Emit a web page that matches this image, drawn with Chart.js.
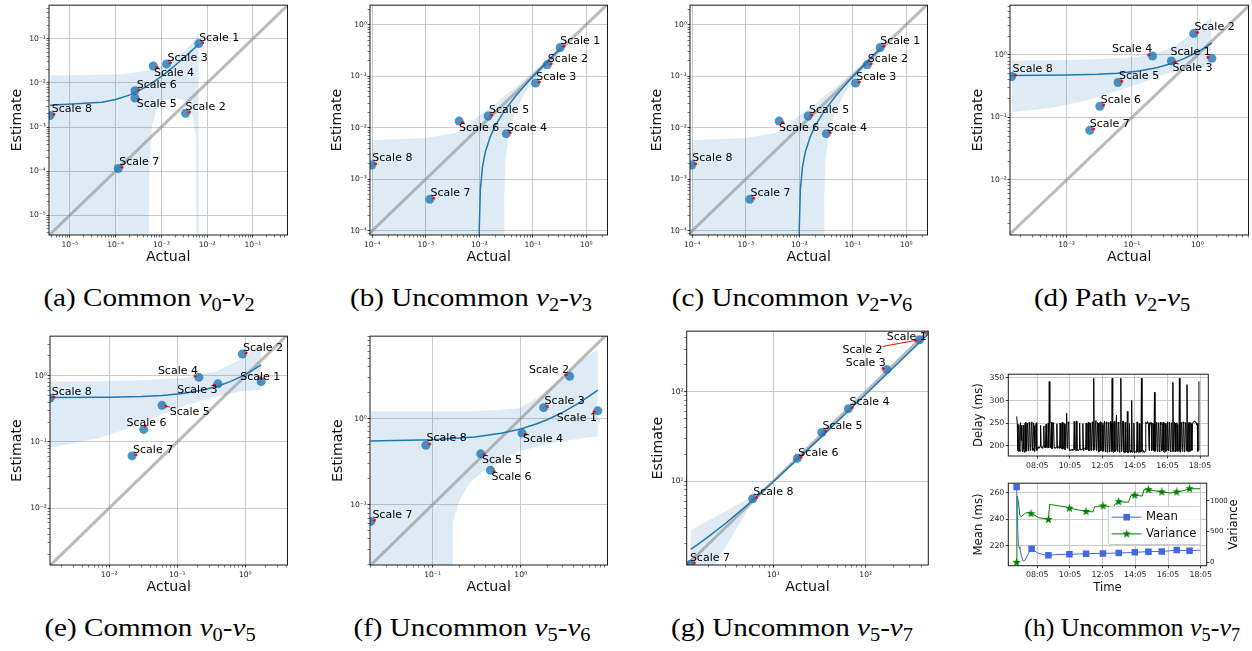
<!DOCTYPE html>
<html>
<head>
<meta charset="utf-8">
<title>Estimate vs Actual per scale</title>
<script src="https://cdn.jsdelivr.net/npm/chart.js@4.4.1/dist/chart.umd.min.js"></script>
<style>
html,body{margin:0;padding:0;background:#fff}
body{width:1252px;height:651px;position:relative;overflow:hidden}
canvas{position:absolute;display:block}
.cap{position:absolute;font-family:"Liberation Serif","Times New Roman",serif;font-size:26px;line-height:25px;color:#000;white-space:nowrap;transform:translateX(-50%) scaleX(1.12)}
.cap.narrow{transform:translateX(-50%) scaleX(1.0)}
.cap i{font-style:italic}
.cap sub{font-size:70%;vertical-align:baseline;position:relative;top:0.3em;line-height:0}
</style>
</head>
<body>
<canvas id="pa"></canvas><canvas id="pb"></canvas><canvas id="pc"></canvas><canvas id="pd"></canvas>
<canvas id="pe"></canvas><canvas id="pf"></canvas><canvas id="pg"></canvas>
<canvas id="ph1"></canvas><canvas id="ph2"></canvas>

<div class="cap" style="left:149px;top:285px">(a) Common <i>v</i><sub>0</sub>-<i>v</i><sub>2</sub></div>
<div class="cap" style="left:471px;top:285px">(b) Uncommon <i>v</i><sub>2</sub>-<i>v</i><sub>3</sub></div>
<div class="cap" style="left:792px;top:285px">(c) Uncommon <i>v</i><sub>2</sub>-<i>v</i><sub>6</sub></div>
<div class="cap" style="left:1112px;top:285px">(d) Path <i>v</i><sub>2</sub>-<i>v</i><sub>5</sub></div>
<div class="cap" style="left:150px;top:615px">(e) Common <i>v</i><sub>0</sub>-<i>v</i><sub>5</sub></div>
<div class="cap" style="left:472px;top:615px">(f) Uncommon <i>v</i><sub>5</sub>-<i>v</i><sub>6</sub></div>
<div class="cap" style="left:792px;top:615px">(g) Uncommon <i>v</i><sub>5</sub>-<i>v</i><sub>7</sub></div>
<div class="cap narrow" style="left:1132px;top:615px">(h) Uncommon <i>v</i><sub>5</sub>-<i>v</i><sub>7</sub></div>

<script>
// ---------------------------------------------------------------- data
const scaleNames = ['Scale 1','Scale 2','Scale 3','Scale 4','Scale 5','Scale 6','Scale 7','Scale 8'];
const F = 1e-9; // confidence edge below zero: lies off the bottom of a log axis

// (a) Common v0-v2
const actualA   = [6.6e-3, 3.39e-3, 1.30e-3, 6.65e-4, 2.65e-4, 2.65e-4, 1.14e-4, 3.7e-6];
const estimateA = [0.078, 2.06e-3, 0.027, 0.0243, 4.55e-3, 6.67e-3, 1.15e-4, 1.83e-3];
const fitXA  = [3.7e-6, 5e-5, 1e-4, 2e-4, 4e-4, 7e-4, 1e-3, 1.5e-3, 2.2e-3, 3.2e-3, 4.5e-3, 6.6e-3];
const fitYA  = [3.14e-3, 3.65e-3, 4.2e-3, 5.3e-3, 7.5e-3, 0.0108, 0.0141, 0.0196, 0.0273, 0.0383, 0.0526, 0.0757];
const bandXA  = [3.7e-6, 1e-4, 2e-4, 4e-4, 5.1e-4, 5.5e-4, 6.2e-4, 8.4e-4, 1.0e-3, 1.54e-3, 2.2e-3, 2.8e-3, 3.6e-3, 4.6e-3, 5.7e-3, 6.1e-3, 6.6e-3];
const bandHiA = [0.0147, 0.0155, 0.0165, 0.0185, 0.0195, 0.0198, 0.0205, 0.023, 0.025, 0.033, 0.041, 0.049, 0.06, 0.078, 0.105, 0.118, 0.14];
const bandLoA = [F, F, F, F, F, 1.0e-4, 1.05e-3, 2.96e-3, 3.6e-3, 4.5e-3, 4.5e-3, 4.25e-3, 3.6e-3, 2.5e-3, 6.3e-4, F, F];

// (b) Uncommon v2-v3
const actualB   = [0.327, 0.187, 0.113, 0.0321, 0.0146, 4.2e-3, 1.19e-3, 9.75e-5];
const estimateB = [0.361, 0.166, 0.0733, 7.65e-3, 0.0168, 0.01345, 4.06e-4, 1.89e-3];
const fitXB  = [0.0099, 0.0100, 0.0105, 0.0115, 0.013, 0.016, 0.02, 0.03, 0.05, 0.1, 0.2, 0.327];
const fitYB  = [F, 1.09e-4, 6.5e-4, 1.74e-3, 3.4e-3, 6.6e-3, 0.011, 0.0219, 0.0436, 0.098, 0.207, 0.345];
const bandXB  = [9.75e-5, 1e-3, 3.75e-3, 6e-3, 8.9e-3, 0.02, 0.0285, 0.0295, 0.031, 0.035, 0.04, 0.05, 0.07, 0.1, 0.2, 0.327];
const bandHiB = [5.7e-3, 6.3e-3, 8e-3, 0.011, 0.0155, 0.029, 0.04, 0.041, 0.043, 0.047, 0.053, 0.064, 0.086, 0.12, 0.237, 0.39];
const bandLoB = [F, F, F, F, F, F, F, 5e-4, 2.4e-3, 6.8e-3, 0.012, 0.0236, 0.044, 0.076, 0.177, 0.30];

// (c) Uncommon v2-v6
const actualC   = [0.327, 0.187, 0.113, 0.0321, 0.0146, 4.2e-3, 1.19e-3, 9.75e-5];
const estimateC = [0.361, 0.166, 0.0733, 7.65e-3, 0.0168, 0.01345, 4.06e-4, 1.89e-3];
const fitXC  = [0.0099, 0.0100, 0.0105, 0.0115, 0.013, 0.016, 0.02, 0.03, 0.05, 0.1, 0.2, 0.327];
const fitYC  = [F, 1.09e-4, 6.5e-4, 1.74e-3, 3.4e-3, 6.6e-3, 0.011, 0.0219, 0.0436, 0.098, 0.207, 0.345];
const bandXC  = [9.75e-5, 1e-3, 3.75e-3, 6e-3, 8.9e-3, 0.02, 0.0285, 0.0295, 0.031, 0.035, 0.04, 0.05, 0.07, 0.1, 0.2, 0.327];
const bandHiC = [5.7e-3, 6.3e-3, 8e-3, 0.011, 0.0155, 0.029, 0.04, 0.041, 0.043, 0.047, 0.053, 0.064, 0.086, 0.12, 0.237, 0.39];
const bandLoC = [F, F, F, F, F, F, F, 5e-4, 2.4e-3, 6.8e-3, 0.012, 0.0236, 0.044, 0.076, 0.177, 0.30];

// (d) Path v2-v5
const actualD   = [1.67, 0.877, 0.401, 0.206, 0.0612, 0.0322, 0.0226, 1.44e-3];
const estimateD = [0.883, 2.2, 0.804, 0.964, 0.363, 0.151, 0.0622, 0.453];
const fitXD  = [1.44e-3, 0.01, 0.03, 0.06, 0.12, 0.24, 0.4, 0.6, 0.9, 1.25, 1.67];
const fitYD  = [0.471, 0.4765, 0.49, 0.509, 0.548, 0.626, 0.73, 0.86, 1.055, 1.28, 1.556];
const bandXD  = [1.44e-3, 5.6e-3, 0.01, 0.0226, 0.058, 0.117, 0.187, 0.237, 0.478, 0.964, 1.63];
const bandHiD = [0.813, 0.82, 0.834, 0.85, 0.883, 0.93, 1.0, 1.06, 1.44, 2.49, 4.06];
const bandLoD = [0.121, 0.142, 0.16, 0.193, 0.262, 0.334, 0.40, 0.453, 0.543, 0.614, 0.67];

// (e) Common v0-v5
const actualE   = [1.71, 0.904, 0.396, 0.208, 0.0598, 0.0322, 0.0217, 1.35e-3];
const estimateE = [0.82, 2.13, 0.757, 0.95, 0.358, 0.155, 0.0615, 0.46];
const fitXE  = [1.35e-3, 0.01, 0.03, 0.06, 0.12, 0.24, 0.4, 0.6, 0.9, 1.25, 1.71];
const fitYE  = [0.471, 0.476, 0.487, 0.505, 0.54, 0.609, 0.702, 0.818, 0.992, 1.195, 1.462];
const bandXE  = [1.35e-3, 7.3e-3, 0.0224, 0.0394, 0.1216, 0.375, 0.824, 1.71];
const bandHiE = [0.82, 0.83, 0.85, 0.87, 0.918, 1.16, 1.73, 3.15];
const bandLoE = [0.082, 0.116, 0.17, 0.218, 0.346, 0.489, 0.581, 0.615];

// (f) Uncommon v5-v6
const actualF   = [7.5, 3.59, 1.82, 1.035, 0.352, 0.454, 0.0199, 0.0839];
const estimateF = [1.23, 3.1, 1.34, 0.679, 0.39, 0.251, 0.064, 0.491];
const fitXF  = [0.0199, 0.1, 0.3, 0.6, 1.0, 1.5, 2.0, 3.0, 4.5, 6.0, 7.5];
const fitYF  = [0.55, 0.567, 0.61, 0.674, 0.758, 0.865, 0.971, 1.18, 1.5, 1.82, 2.14];
const bandXF  = [0.0199, 0.1, 0.16, 0.164, 0.17, 0.2, 0.265, 0.35, 0.485, 0.7, 0.975, 1.5, 2.32, 3.59, 5.2, 7.5];
const bandHiF = [1.21, 1.21, 1.21, 1.21, 1.21, 1.21, 1.22, 1.23, 1.25, 1.28, 1.32, 1.72, 2.44, 3.64, 5.0, 6.44];
const bandLoF = [F, F, F, F, 0.062, 0.11, 0.181, 0.23, 0.282, 0.36, 0.419, 0.47, 0.521, 0.56, 0.595, 0.622];

// (g) Uncommon v5-v7
const actualG   = [476, 382, 169, 65, 33.5, 18.2, 1.27, 5.98];
const estimateG = [480, 382, 177, 64.7, 35, 18, 1.18, 6.37];
const fitXG  = [1.27, 1.5, 2, 3, 5, 10, 30, 100, 300, 476];
const fitYG  = [1.73, 1.945, 2.41, 3.34, 5.2, 9.85, 28.45, 93.6, 279.6, 443];
const bandXG  = [1.27, 1.6, 2.34, 3.5, 5.0, 5.98, 8, 12, 20, 40, 80, 160, 300, 476];
const bandHiG = [2.8, 3.22, 3.99, 5.0, 6.15, 6.8, 8.5, 12.3, 19.9, 39, 77.5, 154, 290, 470];
const bandLoG = [0.78, 0.95, 1.156, 2.34, 4.35, 5.94, 7.7, 11.4, 18.7, 37, 73.5, 146, 272, 430];

// (h) Uncommon v5-v7: delay trace (one sample every 2 minutes from 06:49)
const delayStart = 409, delayStep = 2;
const delayMs = [
  265,248,190,188,247,192,188,251,212,246,190,187,246,193,186,249,252,188,194,247,
  250,189,191,252,247,190,196,248,253,195,190,250,244,188,201,246,251,190,193,196,
  198,195,196,199,245,196,197,195,199,198,244,197,198,196,248,197,196,199,250,196,
  342,250,199,196,252,194,201,251,248,195,197,196,195,197,249,195,199,197,196,195,
  250,196,194,249,252,193,197,250,248,192,196,247,272,195,199,253,251,190,192,191,
  190,192,193,190,191,192,254,191,190,193,255,190,192,191,190,193,250,191,193,192,
  191,193,249,190,192,194,196,192,250,191,194,248,252,189,190,251,248,190,196,253,
  252,190,349,192,195,250,256,190,194,252,250,187,188,250,253,189,196,251,247,188,
  190,252,255,188,187,253,249,186,195,250,252,187,189,254,251,188,349,190,186,252,
  254,187,192,251,268,190,188,252,250,188,186,253,349,188,190,250,255,187,185,186,
  252,186,188,187,276,185,186,188,249,186,190,187,300,186,187,188,250,185,186,187,
  188,186,253,187,186,188,249,186,188,187,349,188,186,187,190,186,187,188,252,250,
  249,253,252,248,190,251,248,252,251,190,193,250,247,189,318,188,190,249,252,189,
  188,251,250,188,187,252,246,189,190,249,252,187,186,250,249,188,191,247,253,190,
  189,252,248,189,187,250,251,188,340,190,188,252,250,187,190,251,247,188,189,190,
  349,188,186,250,252,188,190,253,249,187,188,251,250,189,335,188,187,249,252,188,
  189,251,248,190,250,252,253,254,255,253,252,251,247,249,188,190,342];
// running mean (ms) and variance, minutes since midnight
const meanTime  = [409,412,415,418,421,427,433,440,446,455,464,475,485,495,510,526,545,565,585,603,620,640,664,690,726,755,784,815,843,870,893,920,942,970,997,1020,1044,1065,1083];
const meanValue = [264.2,240,222.4,219,217.6,212,208.2,209,211.4,215,217.6,216,214.5,213.9,213,212.7,213,213.2,213.4,213.4,213.5,213.7,213.9,214,214.1,214.2,214.4,214.6,214.9,215.2,215.4,215.5,215.6,216,216.6,216.3,216.1,216.3,216.6];
const meanMarkTimes = [409,464,526,603,664,726,784,843,893,942,997,1044];
const varTime  = [409,410,415,421,427,442,455,462,473,490,516,526,530,560,590,603,637,664,690,695,726,765,772,784,820,828,843,870,877,893,918,942,975,990,997,1020,1044,1083];
const varValue = [0,1074,1000,760,747,800,815,790,770,725,705,695,940,920,900,878,850,826,820,900,916,900,950,984,975,1080,1090,1075,1180,1179,1160,1142,1125,1135,1142,1160,1194,1194];
const varMarkTimes = [409,462,526,603,664,726,784,843,893,942,997,1044];
const timeTicks = [485,605,725,845,965,1085];
const delayTicks = [200,250,300,350];
const meanTicks = [220,240,260];
const varTicks = [0,500,1000];

// ---------------------------------------------------------------- layout
const labelDxA = [0.3, 0, 1, 0.7, 1.7, 1.7, 1, 1.7],        labelDyA = [-2.4, -2.7, -3, 10, 9.3, -2.6, -3, -3.3];
const labelDxB = [0, 0.6, 0.7, 0.6, 1, 0, 0.7, 0.6],         labelDyB = [-3, -2.6, -2.7, -2.7, -3.3, 10, -3, -3.6];
const labelDxD = [-41.3, 1, 1, -40.4, 1, 1, 0, 1],           labelDyD = [-3.4, -3.4, 9.7, -3.6, -3.3, -3.3, -3.3, -4];
const labelDxE = [-21, 0.6, -40.6, -41, 7.7, -17.3, 1, 1.7], labelDyE = [-1.7, -3.3, 9.4, -3.4, 9.3, -3.3, -3.3, -3.4];
const labelDxF = [-41, -40.7, 1, 1, 1.3, 1, 1.6, 0.7],       labelDyF = [9.7, -3.3, -3.7, 9.3, 9, 9.7, -3.7, -4];
const labelDxG = [-41.6, -77, -41, 1, 0.6, 1, -0.7, 0.6],    labelDyG = [9.3, 13.4, -3.3, -3.4, -3.4, -2.7, -3.3, -3.3];

const DOT = 'rgba(31,119,180,0.8)', FIT = '#1f77b4', BAND = 'rgba(31,119,180,0.15)';
const DIAG = 'rgba(140,140,140,0.6)', GRID = '#cbcbcb', INK = '#222';

Chart.defaults.font.family = '"DejaVu Sans", sans-serif';
Chart.defaults.color = INK;
Chart.defaults.animation = false;

const SUP = {'-':'\u207B','0':'\u2070','1':'\u00B9','2':'\u00B2','3':'\u00B3','4':'\u2074','5':'\u2075','6':'\u2076','7':'\u2077','8':'\u2078','9':'\u2079'};
function powLabel(v){
  const e = Math.round(Math.log10(v));
  return '10' + String(e).split('').map(ch => SUP[ch]).join('');
}
function logTicks(min, max){
  const out = [];
  for (let e = Math.floor(Math.log10(min)); e <= Math.ceil(Math.log10(max)); e++) {
    for (let m = 1; m < 10; m++) {
      const v = m * Math.pow(10, e);
      if (v >= min && v <= max) out.push({value: v, major: m === 1});
    }
  }
  return out;
}
function hhmm(v){
  const h = Math.floor(v / 60), m = Math.round(v % 60);
  return String(h).padStart(2,'0') + ':' + String(m).padStart(2,'0');
}
function place(c, left, top, w, h){
  c.width = w; c.height = h;
  c.style.left = left + 'px'; c.style.top = top + 'px';
  c.style.width = w + 'px'; c.style.height = h + 'px';
}
const pts = (xs, ys) => xs.map((x, i) => ({x, y: ys[i]}));

function drawFrame(ctx, a){
  ctx.save();
  ctx.strokeStyle = '#1a1a1a'; ctx.lineWidth = 1;
  ctx.strokeRect(a.left, a.top, a.right - a.left, a.bottom - a.top);
  ctx.restore();
}

// red pointer from a label box to its marker
function drawArrow(ctx, it){
  const l = it.tx, r = it.tx + it.w, t = it.ty - 8.5, b = it.ty + 2.5;
  const cx = (l + r) / 2, cy = (t + b) / 2;
  const vx = it.px - cx, vy = it.py - cy, L = Math.hypot(vx, vy);
  if (L < 1e-6) return;
  const ux = vx / L, uy = vy / L;
  const k = Math.min(Math.abs(vx) > 1e-6 ? (r - l) / 2 / Math.abs(vx) : Infinity,
                     Math.abs(vy) > 1e-6 ? (b - t) / 2 / Math.abs(vy) : Infinity, 1);
  let sx = cx + vx * k, sy = cy + vy * k;
  const ex = it.px - ux * 1.5, ey = it.py - uy * 1.5;
  if (Math.hypot(ex - sx, ey - sy) < 4) { sx = ex - ux * 4; sy = ey - uy * 4; }
  ctx.beginPath(); ctx.moveTo(sx, sy); ctx.lineTo(ex - ux * 2, ey - uy * 2); ctx.stroke();
  const hx = ex - ux * 3.5, hy = ey - uy * 3.5, nx = -uy, ny = ux;
  ctx.beginPath(); ctx.moveTo(ex, ey);
  ctx.lineTo(hx + nx * 1.6, hy + ny * 1.6); ctx.lineTo(hx - nx * 1.6, hy - ny * 1.6);
  ctx.closePath(); ctx.fill();
}

function labelPlugin(p){
  return {
    id: 'scaleLabels',
    afterDatasetsDraw(chart){
      const {ctx, chartArea: a} = chart;
      const xs = chart.scales.x, ys = chart.scales.y;
      drawFrame(ctx, a);
      ctx.save();
      ctx.font = '11px "DejaVu Sans"';
      const items = scaleNames.map((name, i) => {
        const px = xs.getPixelForValue(p.actual[i]), py = ys.getPixelForValue(p.estimate[i]);
        return {name, px, py, tx: px + p.dx[i], ty: py + p.dy[i], w: ctx.measureText(name).width};
      });
      ctx.strokeStyle = '#ff0000'; ctx.fillStyle = '#ff0000'; ctx.lineWidth = 1;
      items.forEach(it => drawArrow(ctx, it));
      ctx.fillStyle = '#000'; ctx.textAlign = 'left'; ctx.textBaseline = 'alphabetic';
      items.forEach(it => ctx.fillText(it.name, it.tx, it.ty));
      ctx.restore();
    }
  };
}

function buildLogPanel(p){
  const c = document.getElementById(p.id), b = p.box;
  const left = Math.floor(b.x - 48), top = Math.floor(b.y - 3);
  const right = Math.ceil(b.x + b.w + 4), bottom = Math.ceil(b.y + b.h + 36);
  place(c, left, top, right - left, bottom - top);
  const yW = b.x - left, xH = bottom - (b.y + b.h);
  const TT = 14.2, half = TT * 1.2 / 2;
  const yPad = (b.x - p.yGap) - left - half;
  const xPad = bottom - (b.y + b.h + 22.5) - half;
  const lo = Math.min(p.xlim[0], p.ylim[0]) / 100, hi = Math.max(p.xlim[1], p.ylim[1]) * 100;
  const axis = (lim, title, isX) => ({
    type: 'logarithmic', bounds: 'data', min: lim[0], max: lim[1],
    afterBuildTicks: s => { s.ticks = logTicks(lim[0], lim[1]); },
    afterFit: s => { if (isX) s.height = xH; else s.width = yW; },
    ticks: {autoSkip: false, maxRotation: 0, minRotation: 0, font: {size: 7.6}, color: INK,
            padding: isX ? 3.2 : 0.6, callback: (v, i, t) => t[i].major ? powLabel(v) : ''},
    grid: {color: ctx => (ctx.tick && ctx.tick.major) ? GRID : 'rgba(0,0,0,0)', lineWidth: 1,
           tickColor: INK, tickLength: 2.5, tickWidth: ctx => (ctx.tick && ctx.tick.major) ? 0.9 : 0.6},
    border: {display: false},
    title: {display: true, text: title, font: {size: TT}, color: '#111',
            padding: isX ? {top: 0, bottom: xPad} : {top: yPad, bottom: 0}}
  });
  new Chart(c, {
    type: 'line',
    data: {datasets: [
      {data: pts(p.actual, p.estimate), showLine: false, pointRadius: 4.5, pointBackgroundColor: DOT, pointBorderWidth: 0, clip: 0},
      {data: pts(p.fitX, p.fitY), borderColor: FIT, borderWidth: 1.5, pointRadius: 0, clip: 0},
      {data: [{x: lo, y: lo}, {x: hi, y: hi}], borderColor: DIAG, borderWidth: 3, pointRadius: 0, clip: 0},
      {data: pts(p.bandX, p.bandHi), borderColor: 'rgba(0,0,0,0)', borderWidth: 0, pointRadius: 0, fill: '+1', backgroundColor: BAND, clip: 0},
      {data: pts(p.bandX, p.bandLo), borderColor: 'rgba(0,0,0,0)', borderWidth: 0, pointRadius: 0, fill: false, clip: 0}
    ]},
    options: {
      responsive: false, devicePixelRatio: 1, animation: false, events: [],
      layout: {padding: {left: 0, top: b.y - top, right: right - (b.x + b.w), bottom: 0}},
      plugins: {legend: {display: false}, tooltip: {enabled: false}},
      scales: {x: axis(p.xlim, 'Actual', true), y: axis(p.ylim, 'Estimate', false)}
    },
    plugins: [labelPlugin(p)]
  });
}

const PANELS = [
  {id: 'pa', box: {x: 49, y: 3, w: 239, h: 232}, xlim: [3.5e-6, 0.573], ylim: [3.56e-6, 0.581], yGap: 32,
   actual: actualA, estimate: estimateA, fitX: fitXA, fitY: fitYA, bandX: bandXA, bandHi: bandHiA, bandLo: bandLoA, dx: labelDxA, dy: labelDyA},
  {id: 'pb', box: {x: 370, y: 3, w: 238, h: 232}, xlim: [9.06e-5, 2.50], ylim: [8.26e-5, 2.39], yGap: 32.5,
   actual: actualB, estimate: estimateB, fitX: fitXB, fitY: fitYB, bandX: bandXB, bandHi: bandHiB, bandLo: bandLoB, dx: labelDxB, dy: labelDyB},
  {id: 'pc', box: {x: 690, y: 3, w: 238, h: 232}, xlim: [9.06e-5, 2.50], ylim: [8.26e-5, 2.39], yGap: 32.5,
   actual: actualC, estimate: estimateC, fitX: fitXC, fitY: fitYC, bandX: bandXC, bandHi: bandHiC, bandLo: bandLoC, dx: labelDxB, dy: labelDyB},
  {id: 'pd', box: {x: 1010, y: 3, w: 239, h: 232}, xlim: [1.36e-3, 6.07], ylim: [1.31e-3, 6.28], yGap: 31.7,
   actual: actualD, estimate: estimateD, fitX: fitXD, fitY: fitYD, bandX: bandXD, bandHi: bandHiD, bandLo: bandLoD, dx: labelDxD, dy: labelDyD},
  {id: 'pe', box: {x: 50, y: 334.3, w: 238, h: 230.7}, xlim: [1.35e-3, 4.17], ylim: [1.38e-3, 3.98], yGap: 32.8,
   actual: actualE, estimate: estimateE, fitX: fitXE, fitY: fitYE, bandX: bandXE, bandHi: bandHiE, bandLo: bandLoE, dx: labelDxE, dy: labelDyE},
  {id: 'pf', box: {x: 370, y: 334, w: 238, h: 231}, xlim: [0.0195, 9.66], ylim: [0.01995, 9.06], yGap: 32,
   actual: actualF, estimate: estimateF, fitX: fitXF, fitY: fitYF, bandX: bandXF, bandHi: bandHiF, bandLo: bandLoF, dx: labelDxF, dy: labelDyF},
  {id: 'pg', box: {x: 686.7, y: 329.7, w: 241.6, h: 235.3}, xlim: [1.153, 476], ylim: [1.156, 476], yGap: 28.7,
   actual: actualG, estimate: estimateG, fitX: fitXG, fitY: fitYG, bandX: bandXG, bandHi: bandHiG, bandLo: bandLoG, dx: labelDxG, dy: labelDyG}
];
PANELS.forEach(buildLogPanel);

// ---------------------------------------------------------------- (h) time series
function linAxis(o){
  return {
    type: 'linear', bounds: 'data', min: o.min, max: o.max, position: o.position,
    afterBuildTicks: s => { s.ticks = o.ticks.map(v => ({value: v})); },
    afterFit: s => { if (o.isX) s.height = o.size; else s.width = o.size; },
    ticks: {autoSkip: false, maxRotation: 0, minRotation: 0, font: {size: o.font || 7.8}, color: INK, padding: o.pad, callback: o.fmt},
    grid: {display: true, drawOnChartArea: o.grid, color: GRID, lineWidth: 1, tickColor: INK, tickLength: 2.5, tickWidth: 0.9},
    border: {display: false},
    title: o.title ? {display: true, text: o.title, font: {size: 11.7}, color: '#111', padding: o.titlePad} : {display: false}
  };
}
function starImage(size, color){
  const c = document.createElement('canvas');
  c.width = c.height = size;
  const g = c.getContext('2d');
  const R = size / 2, r = R * 0.42;
  g.fillStyle = color; g.beginPath();
  for (let k = 0; k < 10; k++) {
    const ang = -Math.PI / 2 + k * Math.PI / 5, rr = (k % 2) ? r : R;
    g.lineTo(R + rr * Math.cos(ang), R + rr * Math.sin(ang));
  }
  g.closePath(); g.fill();
  return c;
}
const STAR = starImage(9, '#008000');
const LT = 11.7, LHALF = LT * 0.6;

(function delayPanel(){
  const c = document.getElementById('ph1');
  const b = {x: 1008.3, y: 372.3, w: 200, h: 83.7};
  const left = Math.floor(b.x - 50), top = Math.floor(b.y - 4), right = Math.ceil(b.x + b.w + 40), bottom = Math.ceil(b.y + b.h + 16);
  place(c, left, top, right - left, bottom - top);
  new Chart(c, {
    type: 'line',
    data: {datasets: [{data: delayMs.map((v, i) => ({x: delayStart + i * delayStep, y: v})), borderColor: '#000', borderWidth: 1, pointRadius: 0, clip: 0}]},
    options: {
      responsive: false, devicePixelRatio: 1, animation: false, events: [],
      layout: {padding: {left: 0, top: b.y - top, right: right - (b.x + b.w), bottom: 0}},
      plugins: {legend: {display: false}, tooltip: {enabled: false}},
      scales: {
        x: linAxis({min: 377.9, max: 1115.6, ticks: timeTicks, fmt: hhmm, isX: true, size: bottom - (b.y + b.h), pad: 2.3, grid: true}),
        y: linAxis({min: 177.8, max: 358, ticks: delayTicks, fmt: v => String(v), isX: false, size: b.x - left, pad: 1.5, grid: true,
                    title: 'Delay (ms)', titlePad: {top: (b.x - 29.3) - left - LHALF, bottom: 0}})
      }
    },
    plugins: [{id: 'frame', afterDatasetsDraw(chart){ drawFrame(chart.ctx, chart.chartArea); }}]
  });
})();

(function statsPanel(){
  const c = document.getElementById('ph2');
  const b = {x: 1008.3, y: 481, w: 198.4, h: 84.7};
  const left = Math.floor(b.x - 50), top = Math.floor(b.y - 4), right = Math.ceil(b.x + b.w + 44), bottom = Math.ceil(b.y + b.h + 34);
  place(c, left, top, right - left, bottom - top);
  const legendBox = {dx: 100, dy: 23.3, w: 92.4, h: 38, rows: [10.7, 27.4]};
  new Chart(c, {
    type: 'line',
    data: {datasets: [
      {label: 'Mean', data: pts(meanTime, meanValue), yAxisID: 'y', borderColor: '#4169e1', borderWidth: 1,
       pointStyle: 'rect', pointRadius: ctx => meanMarkTimes.includes(meanTime[ctx.dataIndex]) ? 4.6 : 0,
       pointBackgroundColor: '#4169e1', pointBorderWidth: 0, clip: 0},
      {label: 'Variance', data: pts(varTime, varValue), yAxisID: 'y2', borderColor: '#008000', borderWidth: 1,
       pointStyle: STAR, pointRadius: ctx => varMarkTimes.includes(varTime[ctx.dataIndex]) ? 4 : 0, clip: 0}
    ]},
    options: {
      responsive: false, devicePixelRatio: 1, animation: false, events: [],
      layout: {padding: {left: 0, top: b.y - top, right: 0, bottom: 0}},
      plugins: {legend: {display: false}, tooltip: {enabled: false}},
      scales: {
        x: linAxis({min: 378.5, max: 1107, ticks: timeTicks, fmt: hhmm, isX: true, size: bottom - (b.y + b.h), pad: 1.6, grid: true,
                    title: 'Time', titlePad: {top: 0, bottom: bottom - (b.y + b.h + 22) - LHALF}}),
        y: linAxis({min: 204.8, max: 267.1, ticks: meanTicks, fmt: v => String(v), isX: false, size: b.x - left, pad: 1.5, grid: true,
                    title: 'Mean (ms)', titlePad: {top: (b.x - 29.1) - left - LHALF, bottom: 0}}),
        y2: linAxis({min: -53, max: 1284, ticks: varTicks, fmt: v => String(v), isX: false, size: right - (b.x + b.w), pad: 0.8, grid: false, position: 'right', font: 7})
      }
    },
    plugins: [{
      id: 'statsDecor',
      afterDatasetsDraw(chart){
        const {ctx, chartArea: a} = chart;
        drawFrame(ctx, a);
        ctx.save();
        // right-hand axis name, read bottom to top
        ctx.font = LT + 'px "DejaVu Sans"'; ctx.fillStyle = '#111';
        ctx.textAlign = 'center'; ctx.textBaseline = 'middle';
        ctx.translate(a.right + 27, (a.top + a.bottom) / 2); ctx.rotate(-Math.PI / 2);
        ctx.fillText('Variance', 0, 0);
        ctx.restore();
        // legend
        const L = legendBox, lx = a.left + L.dx, ly = a.top + L.dy;
        ctx.save();
        ctx.beginPath();
        if (ctx.roundRect) ctx.roundRect(lx, ly, L.w, L.h, 2); else ctx.rect(lx, ly, L.w, L.h);
        ctx.fillStyle = 'rgba(255,255,255,0.8)'; ctx.fill();
        ctx.strokeStyle = '#cccccc'; ctx.lineWidth = 1; ctx.stroke();
        const entries = [{name: 'Mean', color: '#4169e1', y: ly + L.rows[0]}, {name: 'Variance', color: '#008000', y: ly + L.rows[1]}];
        entries.forEach((e, k) => {
          ctx.strokeStyle = e.color; ctx.lineWidth = 1;
          ctx.beginPath(); ctx.moveTo(lx + 3.4, e.y); ctx.lineTo(lx + 33.4, e.y); ctx.stroke();
          if (k === 0) { ctx.fillStyle = e.color; ctx.fillRect(lx + 18.4 - 3.3, e.y - 3.3, 6.6, 6.6); }
          else ctx.drawImage(STAR, lx + 18.4 - STAR.width / 2, e.y - STAR.height / 2);
          ctx.fillStyle = '#111'; ctx.font = LT + 'px "DejaVu Sans"';
          ctx.textAlign = 'left'; ctx.textBaseline = 'middle';
          ctx.fillText(e.name, lx + 37.7, e.y);
        });
        ctx.restore();
      }
    }]
  });
})();
</script>
</body>
</html>
